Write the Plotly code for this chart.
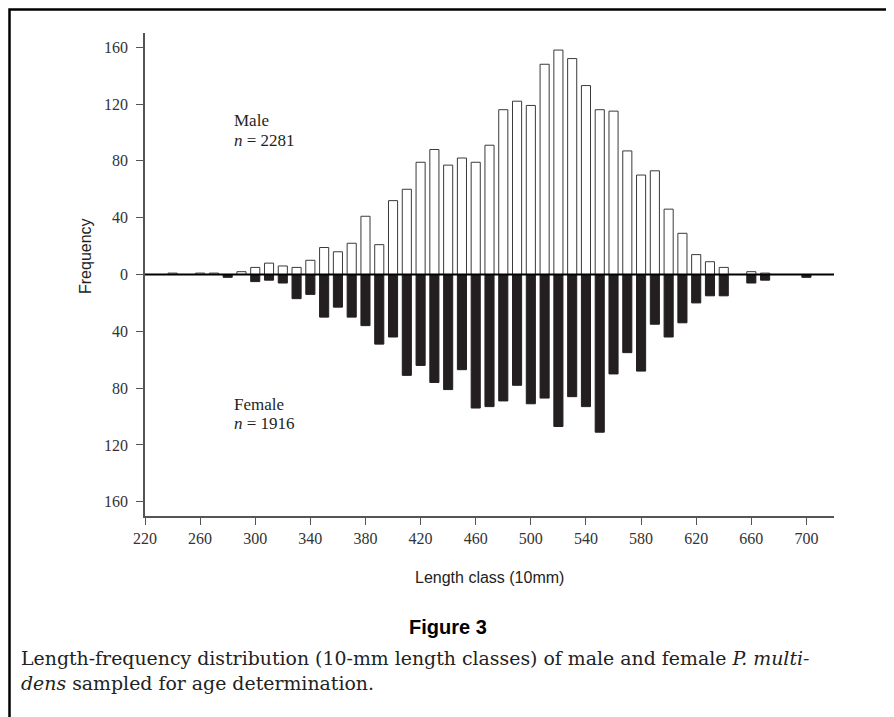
import plotly.graph_objects as go

length_class = list(range(240, 710, 10))
male = [1, 0, 1, 1, 0, 2, 5, 8, 6, 5, 10, 19, 16, 22, 41, 21, 52, 60, 79, 88, 77, 82,
        79, 91, 116, 122, 119, 148, 158, 152, 133, 116, 115, 87, 70, 73, 46, 29, 14,
        9, 5, 0, 2, 1, 0, 0, 0]
female = [0, 0, 0, 0, 2, 0, 5, 4, 6, 17, 14, 30, 23, 30, 36, 49, 44, 71, 64, 76, 81, 67,
          94, 93, 89, 78, 91, 87, 107, 86, 93, 111, 70, 55, 68, 35, 44, 34, 20,
          15, 15, 0, 6, 4, 0, 0, 2]
x_ticks = list(range(220, 710, 40))
y_ticks = [-160, -120, -80, -40, 0, 40, 80, 120, 160]
y_ticktext = [str(abs(v)) for v in y_ticks]

serif = "Liberation Serif"
sans = "Liberation Sans"
ink = "#231f20"

L, R, T, B = 137, 68, 25, 209
W, H = 894, 717
PW, PH = W - L - R, H - T - B


def px(x):
    return (x - L) / PW


def py(y):
    return (H - B - y) / PH


fig = go.Figure()
fig.add_trace(go.Bar(x=length_class, y=male, width=6.6, name="Male",
                     marker=dict(color="white", line=dict(color="#3a3a3a", width=1))))
fig.add_trace(go.Bar(x=length_class, y=[-v for v in female], width=6.6, name="Female",
                     marker=dict(color=ink, line=dict(color=ink, width=1))))

axis_common = dict(showline=True, linecolor="#555", linewidth=1.5, ticks="outside",
                   ticklen=7, tickcolor="#555", tickwidth=1.3, showgrid=False,
                   zeroline=False, tickfont=dict(family=serif, size=16, color="#333"))

fig.update_layout(
    width=W, height=H, barmode="overlay", showlegend=False,
    plot_bgcolor="white", paper_bgcolor="white",
    margin=dict(l=L, r=R, t=T, b=B),
    xaxis=dict(range=[220, 720], tickvals=x_ticks, **axis_common),
    yaxis=dict(range=[-170, 170], tickvals=y_ticks, ticktext=y_ticktext,
               ticklabelstandoff=5, **axis_common),
)

# zero line
fig.add_shape(type="line", xref="paper", yref="y", x0=0, x1=1, y0=0, y1=0,
              line=dict(color="black", width=2), layer="above")
# figure frame
fig.add_shape(type="rect", xref="paper", yref="paper", x0=px(1.5), x1=px(W + 20),
              y0=py(H + 20), y1=py(1.5), line=dict(color="black", width=2.5))

for txt, yv in [("Male", 108.5), ("<i>n</i> = 2281", 94.5),
                ("Female", -91.5), ("<i>n</i> = 1916", -105)]:
    fig.add_annotation(x=283, y=yv, xref="x", yref="y", xanchor="left", yanchor="middle",
                       text=txt, showarrow=False, align="left",
                       font=dict(family=serif, size=17, color=ink))

fig.add_annotation(x=px(77), y=py(248), xref="paper", yref="paper", text="Frequency",
                   textangle=-90, showarrow=False, xanchor="center", yanchor="middle",
                   font=dict(family=sans, size=16, color="#222"))
fig.add_annotation(x=0.5, y=py(569), xref="paper", yref="paper", text="Length class (10mm)",
                   showarrow=False, xanchor="center", yanchor="middle",
                   font=dict(family=sans, size=16, color="#222"))
fig.add_annotation(x=px(440), y=py(619), xref="paper", yref="paper",
                   text="<b>Figure 3</b>", showarrow=False, xanchor="center", yanchor="middle",
                   font=dict(family=sans, size=20, color="black"))
fig.add_annotation(x=px(11), y=py(662), xref="paper", yref="paper",
                   text="Length-frequency distribution (10-mm length classes) of male and female <i>P. multi-</i><br><i>dens</i> sampled for age determination.",
                   showarrow=False, xanchor="left", yanchor="middle", align="left",
                   font=dict(family="DejaVu Serif", size=18.9, color="#222"))

fig.write_html("out.html")
